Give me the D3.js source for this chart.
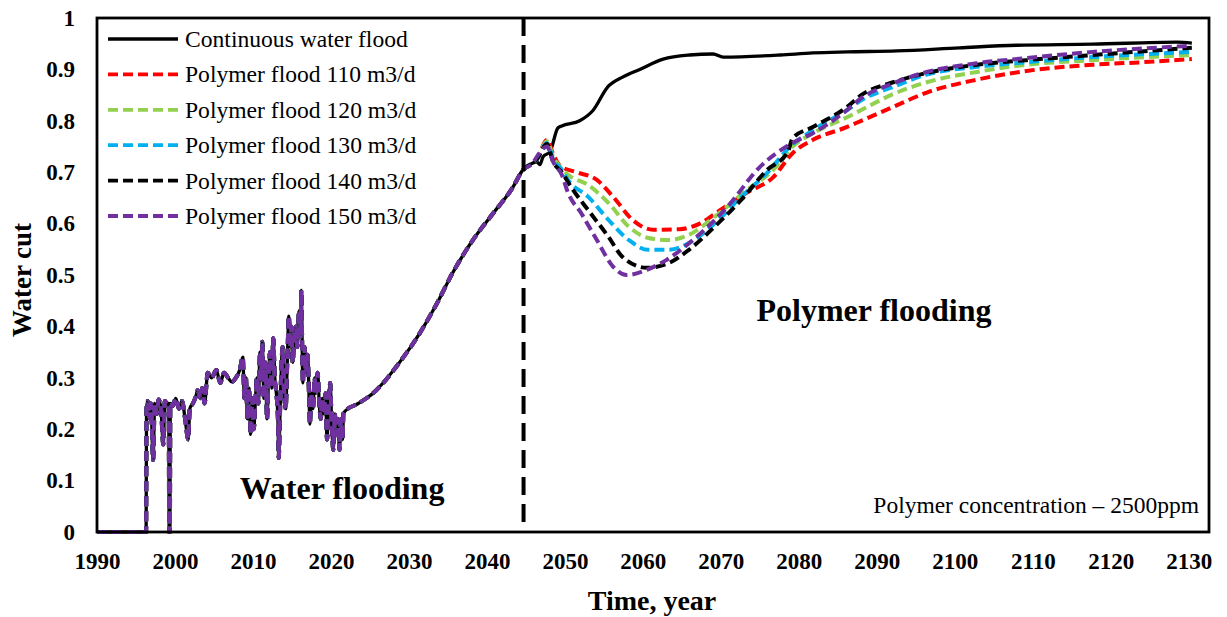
<!DOCTYPE html>
<html><head><meta charset="utf-8">
<script src="https://cdn.jsdelivr.net/npm/d3@7"></script>
<style>body{margin:0;background:#fff} svg{display:block;font-family:"Liberation Serif","Times New Roman",serif}</style>
</head><body><svg id="c" width="1227" height="617"></svg>
<script>
// ---------- data ----------
const xTicks = [1990,2000,2010,2020,2030,2040,2050,2060,2070,2080,2090,2100,2110,2120,2130];
const yTicks = [0,0.1,0.2,0.3,0.4,0.5,0.6,0.7,0.8,0.9,1];
const yTickLabels = ["0","0.1","0.2","0.3","0.4","0.5","0.6","0.7","0.8","0.9","1"];
const switchYear = 2044.7;

// shared history (all cases identical)
const histYear = [1990.0,1996.3,1996.35,1996.5,1996.8,1996.9,1997.2,1997.4,1997.7,1997.9,1998.2,1998.5,1998.7,1999.0,1999.2,1999.25,1999.35,1999.4,1999.7,2000.1,2000.5,2000.9,2001.3,2001.7,2001.9,2002.3,2002.7,2002.9,2003.3,2003.5,2003.8,2004.2,2004.7,2005.3,2005.8,2006.3,2006.8,2007.3,2007.8,2008.3,
  2008.7,2008.9,2009.1,2009.3,2009.5,2009.7,2009.9,2010.1,2010.3,2010.5,2010.7,2010.9,2011.1,2011.2,2011.4,2011.6,2011.8,2012.0,2012.2,2012.4,2012.6,2012.8,2013.0,2013.2,2013.3,2013.5,2013.6,2013.8,2014.0,2014.2,2014.4,2014.6,2014.8,2014.9,2015.1,2015.3,2015.5,2015.7,2015.9,2016.1,2016.2,2016.4,2016.6,2016.8,2017.0,2017.2,2017.3,2017.5,2017.7,2017.9,2018.1,2018.3,2018.5,2018.7,2018.9,2019.1,2019.3,2019.5,2019.7,2019.9,2020.1,2020.3,2020.5,2020.7,2020.9,2021.1,2021.3,2021.5,2021.6,2021.8,
  2023.5,2025.4,2028.8,2031.4,2033.6,2035.6,2038.2,2040.8,2043.3,2044.6,2045.9];
const histCut = [0,0,0.24,0.255,0.22,0.25,0.14,0.25,0.23,0.258,0.24,0.17,0.255,0.25,0.25,0,0,0.25,0.245,0.26,0.24,0.255,0.22,0.18,0.24,0.25,0.265,0.276,0.26,0.28,0.25,0.31,0.30,0.315,0.29,0.31,0.30,0.292,0.30,0.315,
  0.34,0.26,0.30,0.22,0.28,0.19,0.26,0.20,0.25,0.30,0.25,0.35,0.30,0.37,0.26,0.33,0.22,0.30,0.35,0.28,0.377,0.30,0.27,0.22,0.144,0.25,0.30,0.36,0.27,0.24,0.33,0.42,0.36,0.40,0.33,0.38,0.40,0.36,0.43,0.38,0.47,0.29,0.36,0.31,0.345,0.26,0.21,0.27,0.24,0.30,0.27,0.31,0.25,0.22,0.26,0.23,0.27,0.18,0.25,0.29,0.21,0.16,0.23,0.19,0.22,0.16,0.22,0.18,0.23,0.235,
  0.25,0.27,0.33,0.387,0.445,0.504,0.568,0.62,0.67,0.704,0.718];

// continuation of each case after the switch
const contYear = [2046.4,2046.8,2047.2,2048.1,2049.1,2049.6,2051.9,2053.6,2055.5,2057.4,2059.6,2062.6,2066.0,2069.0,2070.3,2077.6,2081.8,2086.2,2092.6,2100.6,2107.9,2117.7,2128.5,2130.4];
const contCut  = [0.72,0.715,0.73,0.74,0.786,0.79,0.80,0.82,0.866,0.885,0.90,0.92,0.928,0.93,0.924,0.928,0.932,0.934,0.936,0.942,0.947,0.949,0.953,0.951];

const p110Year = [2046.4,2047.7,2048.5,2049.4,2051.5,2054.1,2056.2,2058.7,2061.3,2064.7,2067.3,2069.9,2073.3,2076.7,2079.2,2081.8,2086.2,2088.0,2092.1,2096.4,2102.8,2109.2,2117.7,2124.1,2130.4];
const p110Cut  = [0.725,0.763,0.735,0.712,0.70,0.685,0.652,0.607,0.588,0.589,0.60,0.626,0.66,0.69,0.737,0.763,0.788,0.80,0.827,0.855,0.88,0.897,0.909,0.914,0.92];

const p120Year = [2046.4,2047.7,2048.5,2049.4,2050.4,2053.0,2055.6,2058.2,2060.7,2063.3,2065.9,2069.2,2073.3,2076.7,2079.2,2081.8,2086.2,2088.0,2092.1,2096.4,2102.8,2109.2,2117.7,2130.4];
const p120Cut  = [0.725,0.76,0.73,0.71,0.695,0.675,0.64,0.594,0.572,0.568,0.578,0.613,0.665,0.704,0.75,0.776,0.807,0.821,0.852,0.875,0.895,0.909,0.918,0.928];

const p130Year = [2046.4,2047.7,2048.5,2049.6,2050.4,2053.0,2055.6,2058.2,2060.7,2063.3,2065.9,2069.2,2072.6,2075.9,2078.9,2081.8,2086.2,2088.0,2092.1,2096.4,2102.8,2109.2,2117.7,2130.4];
const p130Cut  = [0.725,0.757,0.725,0.705,0.685,0.652,0.607,0.568,0.549,0.549,0.562,0.60,0.652,0.698,0.75,0.782,0.821,0.84,0.866,0.89,0.905,0.914,0.924,0.934];

const p140Year = [2046.4,2047.7,2048.5,2049.6,2050.8,2053.0,2055.6,2057.4,2060.5,2063.3,2065.9,2069.2,2072.6,2075.9,2078.6,2079.2,2081.8,2086.2,2088.0,2092.1,2096.4,2102.8,2109.2,2117.7,2130.4];
const p140Cut  = [0.725,0.755,0.72,0.70,0.671,0.626,0.574,0.535,0.514,0.523,0.549,0.594,0.646,0.704,0.74,0.766,0.788,0.827,0.85,0.875,0.893,0.909,0.918,0.928,0.942];

const p150Year = [2046.4,2047.7,2048.5,2049.6,2050.4,2052.1,2054.1,2056.2,2057.9,2060.5,2063.0,2066.4,2070.8,2075.0,2079.2,2081.8,2086.2,2088.0,2092.1,2096.4,2102.8,2109.2,2117.7,2130.4];
const p150Cut  = [0.73,0.75,0.72,0.695,0.66,0.62,0.568,0.516,0.50,0.51,0.529,0.568,0.632,0.71,0.757,0.776,0.821,0.844,0.873,0.895,0.912,0.922,0.934,0.946];

const seriesNames  = ["Continuous water flood","Polymer flood 110 m3/d","Polymer flood 120 m3/d","Polymer flood 130 m3/d","Polymer flood 140 m3/d","Polymer flood 150 m3/d"];
const seriesColors = ["#000000","#FF0000","#92D050","#00B0F0","#000000","#7030A0"];
const tails = [[contYear,contCut],[p110Year,p110Cut],[p120Year,p120Cut],[p130Year,p130Cut],[p140Year,p140Cut],[p150Year,p150Cut]];

// ---------- chart ----------
const svg = d3.select("#c");
const L = 97, R = 1209, T = 18, B = 532;
const x = d3.scaleLinear().domain([1990, 2132.6]).range([L, R]);
const y = d3.scaleLinear().domain([0, 1]).range([B, T]);

const series = tails.map((t, i) => {
  const pts = histYear.map((yr, k) => [yr, histCut[k]]).concat(t[0].map((yr, k) => [yr, t[1][k]]));
  return {name: seriesNames[i], color: seriesColors[i], dashed: i > 0, pts};
});

const line = d3.line().x(d => x(d[0])).y(d => y(d[1])).curve(d3.curveMonotoneX);

svg.selectAll("path.s").data(series).enter().append("path")
  .attr("class", "s")
  .attr("d", d => line(d.pts))
  .attr("fill", "none")
  .attr("stroke", d => d.color)
  .attr("stroke-width", d => d.dashed ? 4 : 3.3)
  .attr("stroke-dasharray", d => d.dashed ? "10,5" : null)
  .attr("stroke-linejoin", "round");

// switch line
svg.append("line")
  .attr("x1", x(switchYear)).attr("x2", x(switchYear))
  .attr("y1", y(1)).attr("y2", y(0))
  .attr("stroke", "#000").attr("stroke-width", 4).attr("stroke-dasharray", "18,9");

// frame
svg.append("rect").attr("x", L).attr("y", T).attr("width", R - L).attr("height", B - T)
  .attr("fill", "none").attr("stroke", "#000").attr("stroke-width", 2.8);

// axes (labels only)
const xAxis = d3.axisBottom(x).tickValues(xTicks).tickSize(0).tickPadding(21).tickFormat(d3.format("d"));
const gx = svg.append("g").attr("transform", `translate(0,${B})`).call(xAxis);
gx.select(".domain").remove();
gx.selectAll("text").attr("font-family", "Liberation Serif, Times New Roman, serif")
  .attr("font-size", 23).attr("font-weight", "bold").attr("fill", "#000");

const yAxis = d3.axisLeft(y).tickValues(yTicks).tickSize(0).tickPadding(22).tickFormat((d, i) => yTickLabels[i]);
const gy = svg.append("g").attr("transform", `translate(${L},0)`).call(yAxis);
gy.select(".domain").remove();
gy.selectAll("text").attr("font-family", "Liberation Serif, Times New Roman, serif")
  .attr("font-size", 23).attr("font-weight", "bold").attr("fill", "#000");

// axis titles
svg.append("text").attr("x", 652).attr("y", 610).attr("text-anchor", "middle")
  .attr("font-size", 28).attr("font-weight", "bold").text("Time, year");
svg.append("text").attr("transform", "translate(31,280) rotate(-90)").attr("text-anchor", "middle")
  .attr("font-size", 27).attr("font-weight", "bold").text("Water cut");

// annotations
svg.append("text").attr("x", 342).attr("y", 499).attr("text-anchor", "middle")
  .attr("font-size", 32).attr("font-weight", "bold").text("Water flooding");
svg.append("text").attr("x", 874).attr("y", 321).attr("text-anchor", "middle")
  .attr("font-size", 32).attr("font-weight", "bold").text("Polymer flooding");
svg.append("text").attr("x", 1199).attr("y", 513).attr("text-anchor", "end")
  .attr("font-size", 23.5).text("Polymer concentration \u2013 2500ppm");

// legend
const lg = svg.append("g");
series.forEach((s, i) => {
  const cy = 39 + i * 35.4;
  lg.append("line").attr("x1", 108).attr("x2", 178).attr("y1", cy).attr("y2", cy)
    .attr("stroke", s.color).attr("stroke-width", s.dashed ? 3.8 : 3.4)
    .attr("stroke-dasharray", s.dashed ? "10,5" : null);
  lg.append("text").attr("x", 185).attr("y", cy + 8).attr("font-size", 23.6).text(s.name);
});
</script></body></html>
